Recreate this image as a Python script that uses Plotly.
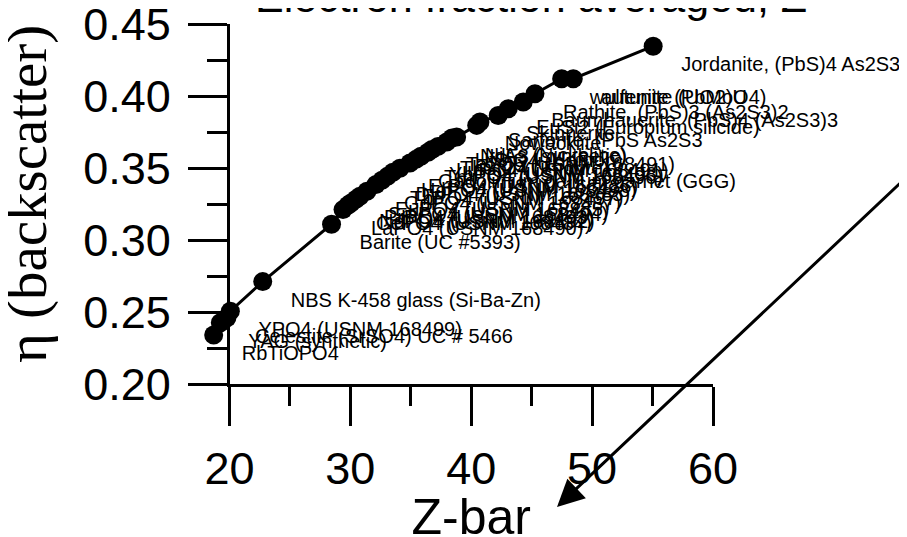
import plotly.graph_objects as go

# ---- data ----
z_bar = [18.69, 19.24, 19.79, 20.07, 22.75, 28.44, 29.39, 29.80, 30.05, 30.46,
         30.79, 31.37, 32.12, 32.61, 33.07, 33.52, 34.10, 34.93, 35.43, 35.84,
         36.42, 36.75, 37.25, 37.97, 38.40, 38.79, 40.45, 40.72, 42.23, 43.06,
         44.30, 45.27, 47.48, 48.44, 55.05]
eta = [0.2340, 0.2425, 0.2460, 0.2506, 0.2711, 0.3110, 0.3211, 0.3241, 0.3257, 0.3283,
       0.3304, 0.3338, 0.3385, 0.3415, 0.3442, 0.3470, 0.3498, 0.3535, 0.3560, 0.3581,
       0.3609, 0.3628, 0.3650, 0.3680, 0.3708, 0.3715, 0.3796, 0.3819, 0.3865, 0.3912,
       0.3958, 0.4016, 0.4120, 0.4120, 0.4346]
labels = ["RbTiOPO4", "YAG (synthetic)", "Celestite (SrSO4) UC # 5466", "YPO4 (USNM 168499)",
          "NBS K-458 glass (Si-Ba-Zn)", "Barite (UC #5393)", "LaPO4 (USNM 168490)",
          "CePO4 (USNM 168484)", "NdPO4 (USNM 168492)", "PrPO4 (USNM 168493)",
          "SmPO4 (USNM 168494)", "EuPO4 (USNM 168485)", "GdPO4 (USNM 168487)",
          "TbPO4 (USNM 168497)", "DyPO4 (USNM 168485)", "HoPO4 (USNM 168488)",
          "ErPO4 (USNM 168486)", "Gadolinium gallium garnet (GGG)", "TmPO4 (USNM 168496)",
          "YbPO4 (USNM 168498)", "LuPO4 (USNM 168491)", "ThSiO4 (Thorite)",
          "Ta2O5 (USNM 168491)", "HfSiO4 (Hafnon)", "NdF3 (synthetic)", "NiAs (Nickeline)",
          "Nowackiite", "Sartorite, (PbS As2S3", "Skinnerite", "EuSi2 (Europium silicide)",
          "Baumhauerite, (PbS)4 (As2S3)3", "Rathite, (PbS)3 (As2S3)2",
          "wulfenite (PbMoO4)", "autunite (UO2)U", "Jordanite, (PbS)4 As2S3"]

x_ticks = [20, 30, 40, 50, 60]
y_ticks = [0.20, 0.25, 0.30, 0.35, 0.40, 0.45]

SANS = "Liberation Sans"
SERIF = "Times New Roman, Times, serif"

X_LO, X_HI = 20, 60          # visible axis range
X_DATA_LO = 16.732           # data axis reaches a little left of the visible y axis
LABEL_DX = 2.32              # label offset (axis units) -> a few pixels right
LABEL_DY = 0.0139            # label offset (axis units) -> a few pixels down

fig = go.Figure()
fig.add_trace(go.Scatter(
    x=z_bar, y=eta, mode="lines+markers",
    line=dict(color="black", width=3),
    marker=dict(color="black", size=19),
    cliponaxis=False, showlegend=False, hoverinfo="skip"))

fig.add_trace(go.Scatter(
    x=z_bar, y=eta, mode="text", text=labels, textposition="middle right",
    textfont=dict(family=SANS, size=20, color="black"),
    xaxis="x2", yaxis="y2", cliponaxis=False, showlegend=False, hoverinfo="skip"))

# empty trace so that the visible x axis gets its own subplot
fig.add_trace(go.Scatter(x=[None], y=[None], xaxis="x3", yaxis="y", mode="markers",
                         showlegend=False, hoverinfo="skip"))

axis_common = dict(showline=True, linecolor="black", linewidth=2.5, ticks="outside",
                   tickcolor="black", tickwidth=2.5, ticklen=39, showgrid=False,
                   zeroline=False, automargin=False, ticklabeloverflow="allow",
                   tickfont=dict(family=SANS, size=45, color="black"))

dom0 = (X_LO - X_DATA_LO) / (X_HI - X_DATA_LO)

fig.update_layout(
    template="none",
    width=907, height=537, autosize=False,
    margin=dict(l=182, r=202, t=16, b=161, pad=0),
    paper_bgcolor="white", plot_bgcolor="rgba(0,0,0,0)",
    xaxis=dict(domain=[0, 1], range=[X_DATA_LO, X_HI], visible=False, automargin=False),
    xaxis3=dict(domain=[dom0, 1], range=[X_LO, X_HI], anchor="y",
                tickvals=x_ticks, ticktext=[str(v) for v in x_ticks], ticklabelstandoff=4,
                minor=dict(dtick=5, ticklen=19, tickwidth=2.5, tickcolor="black", ticks="outside"),
                title=dict(text="Z-bar", font=dict(family=SANS, size=50, color="black"), standoff=8),
                **axis_common),
    yaxis=dict(domain=[0, 1], range=[0.20, 0.45], anchor="x3",
               tickvals=y_ticks, ticktext=[f"{v:.2f}" for v in y_ticks], ticklabelstandoff=8,
               minor=dict(dtick=0.025, ticklen=20, tickwidth=2.5, tickcolor="black", ticks="outside"),
               **axis_common),
    xaxis2=dict(overlaying="x", range=[X_DATA_LO - LABEL_DX, X_HI - LABEL_DX], visible=False),
    yaxis2=dict(overlaying="y", range=[0.20 + LABEL_DY, 0.45 + LABEL_DY], visible=False),
    annotations=[
        dict(xref="paper", yref="paper", x=0.652, y=1.0747, xanchor="center", yanchor="middle",
             text="Electron fraction averaged, Z", showarrow=False,
             font=dict(family=SANS, size=43, color="black")),
        dict(xref="paper", yref="paper", x=-0.3117, y=0.5276, xanchor="center", yanchor="middle",
             text="η (backscatter)", textangle=-90, showarrow=False,
             font=dict(family=SERIF, size=57, color="black")),
        dict(xref="paper", yref="paper", x=0.7017, y=-0.3417, text=" ",
             showarrow=True, axref="pixel", ayref="pixel", ax=355, ay=-335,
             arrowhead=2, arrowsize=1.8, arrowwidth=3, arrowcolor="black"),
    ],
)

fig.write_html("out.html")
